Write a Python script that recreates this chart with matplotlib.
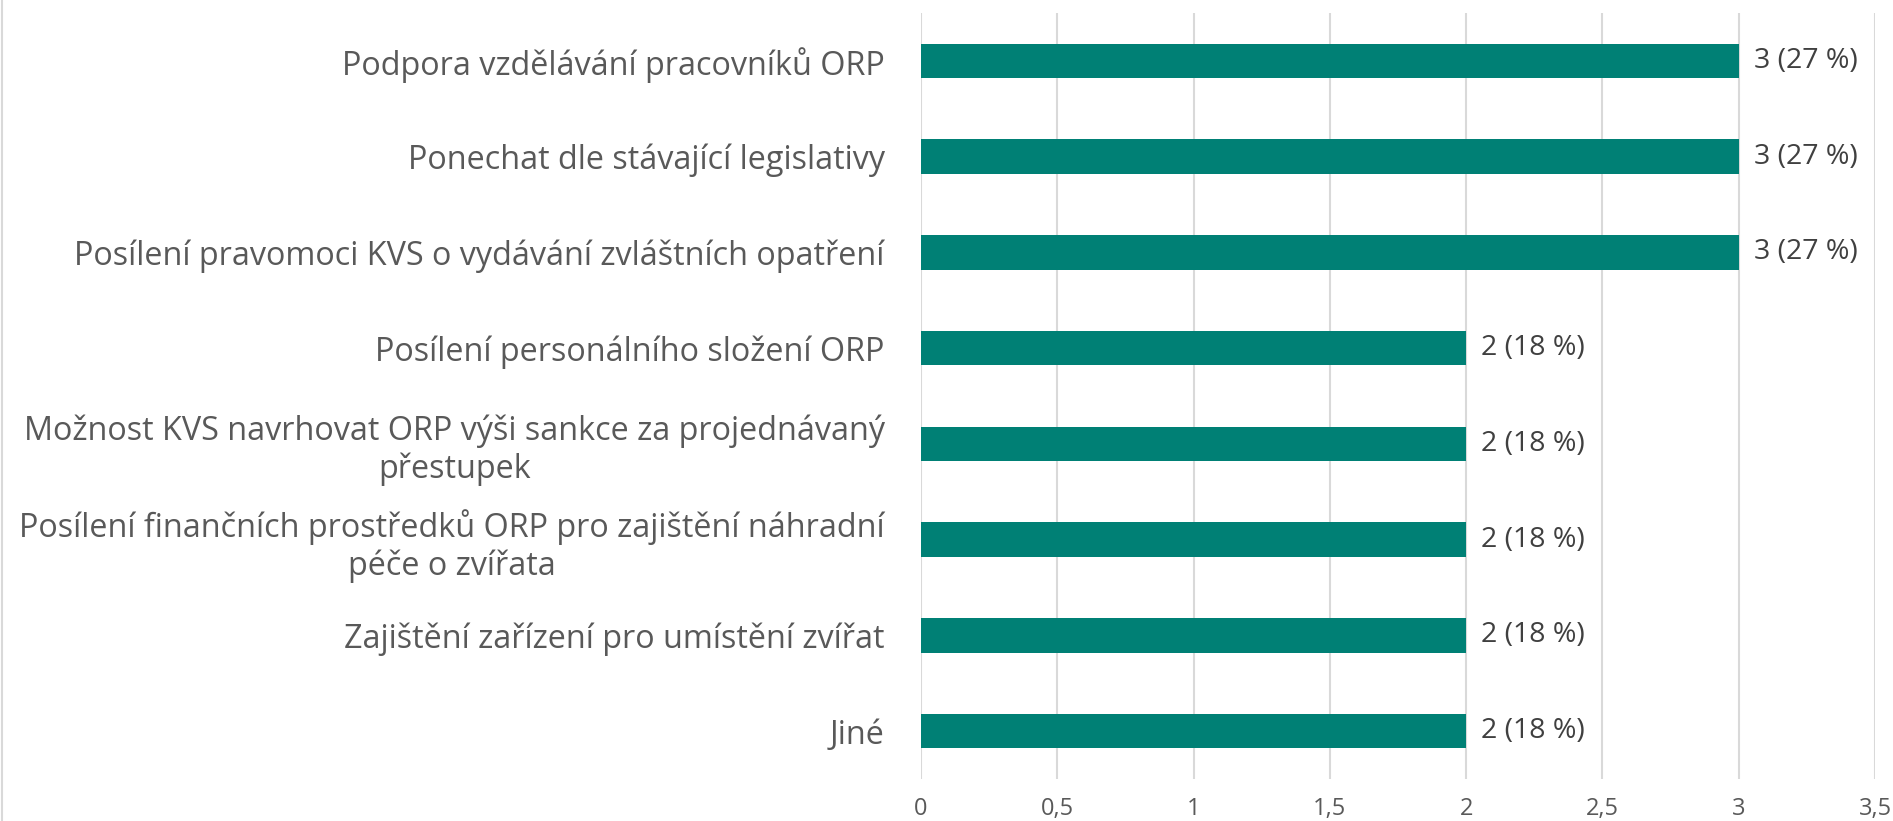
import matplotlib.pyplot as plt
from matplotlib.lines import Line2D

# Chart data (top to bottom as shown)
categories = [
    "Podpora vzdělávání pracovníků ORP",
    "Ponechat dle stávající legislativy",
    "Posílení pravomoci KVS o vydávání zvláštních opatření",
    "Posílení personálního složení ORP",
    "Možnost KVS navrhovat ORP výši sankce za projednávaný\npřestupek",
    "Posílení finančních prostředků ORP pro zajištění náhradní\npéče o zvířata",
    "Zajištění zařízení pro umístění zvířat",
    "Jiné",
]
counts = [3, 3, 3, 2, 2, 2, 2, 2]
percents = [27, 27, 27, 18, 18, 18, 18, 18]
x_ticks = [0, 0.5, 1, 1.5, 2, 2.5, 3, 3.5]
x_tick_labels = ["0", "0,5", "1", "1,5", "2", "2,5", "3", "3,5"]

plt.rcParams["font.family"] = ["Open Sans", "DejaVu Sans"]

fig = plt.figure(figsize=(18.93, 8.21), dpi=100)
ax = fig.add_axes([0.4865, 0.0512, 0.504, 0.933])

# Bars drawn from top to bottom
positions = list(range(len(categories)))[::-1]
ax.barh(positions, counts, height=0.36, color="#008075", zorder=3)

# Data labels
for pos, n, pct in zip(positions, counts, percents):
    ax.annotate(
        f"{n} ({pct} %)",
        xy=(n, pos),
        xytext=(11, 0),
        textcoords="offset points",
        va="center",
        ha="left",
        fontsize=20.5,
        color="#404040",
    )

ax.set_xlim(0, 3.5)
ax.set_ylim(-0.5, len(categories) - 0.5)
ax.set_xticks(x_ticks)
ax.set_xticklabels(x_tick_labels, fontsize=17, color="#595959")
ax.set_yticks(positions)
ax.set_yticklabels(categories, fontsize=23.3, color="#595959",
                   multialignment="center", linespacing=1.2)
ax.tick_params(axis="both", length=0)
ax.tick_params(axis="y", pad=26)
ax.tick_params(axis="x", pad=13)

ax.grid(axis="x", color="#d9d9d9", linewidth=1.5, zorder=0)
for spine in ax.spines.values():
    spine.set_visible(False)

# Light chart-area border on the left edge
fig.add_artist(Line2D([0.0008, 0.0008], [0, 1], transform=fig.transFigure,
                      color="#d9d9d9", linewidth=1.5))

fig.savefig("out.png", dpi=100)
